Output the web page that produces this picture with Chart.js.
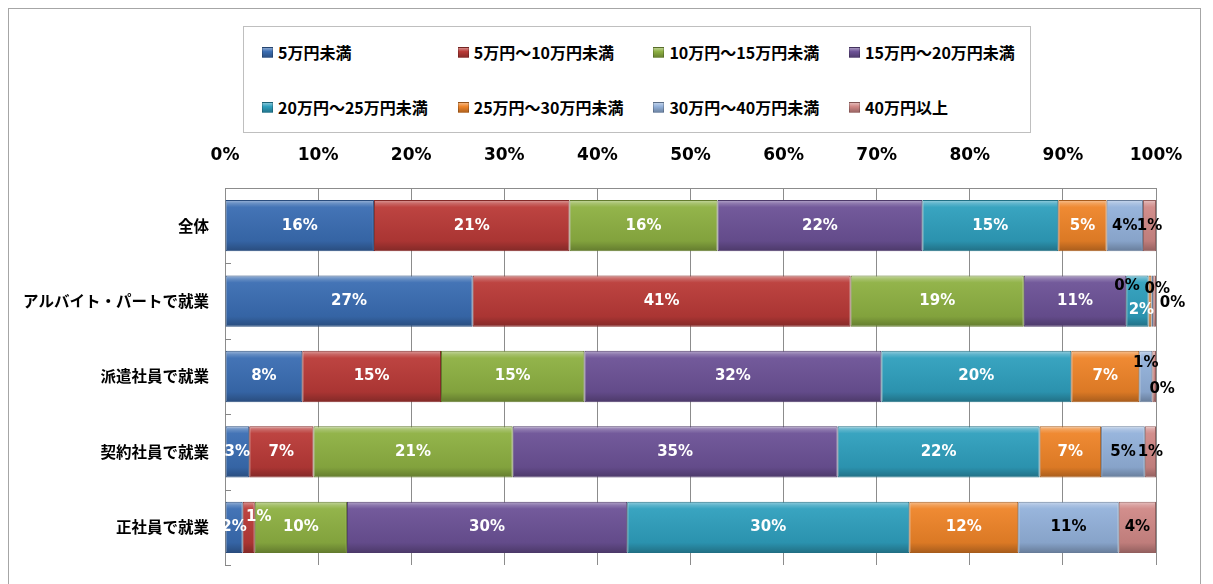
<!DOCTYPE html>
<html lang="ja">
<head>
<meta charset="utf-8">
<script src="https://cdn.jsdelivr.net/npm/chart.js@4/dist/chart.umd.min.js"></script>
<style>
  body { margin: 0; background: #fff; }
  #wrap { position: relative; width: 1213px; height: 584px; overflow: hidden; }
  #frame { position: absolute; left: 8px; top: 8px; width: 1191px; height: 600px; border: 1px solid #a6a6a6; }
  #legend { position: absolute; left: 243px; top: 26px; width: 786px; height: 105px; border: 1px solid #bfbfbf; background: #fff; }
  .item { position: absolute; display: flex; align-items: center; height: 20px; font: bold 16px "Noto Sans CJK JP", sans-serif; color: #000; white-space: nowrap; }
  .sw { width: 9px; height: 9px; margin-right: 5px; border: 1px solid rgba(0,0,0,0.2); }
  canvas { position: absolute; left: 0; top: 0; }
</style>
</head>
<body>
<div id="wrap">
  <div id="frame"></div>
  <canvas id="chart" width="1213" height="584"></canvas>
  <div id="legend"></div>
</div>
<script>
const categories = ["全体", "アルバイト・パートで就業", "派遣社員で就業", "契約社員で就業", "正社員で就業"];
const seriesNames = ["5万円未満", "5万円～10万円未満", "10万円～15万円未満", "15万円～20万円未満",
  "20万円～25万円未満", "25万円～30万円未満", "30万円～40万円未満", "40万円以上"];

// share (%) per category, in the order of categories
const under5 = [16.0, 26.6, 8.3, 2.6, 1.9];
const from5to10 = [21.0, 40.6, 14.9, 6.9, 1.3];
const from10to15 = [15.9, 18.6, 15.4, 21.4, 9.9];
const from15to20 = [22.0, 11.0, 31.9, 34.9, 30.1];
const from20to25 = [14.6, 2.4, 20.4, 21.7, 30.3];
const from25to30 = [5.2, 0.3, 7.3, 6.6, 11.7];
const from30to40 = [3.9, 0.2, 1.4, 4.7, 10.8];
const over40 = [1.4, 0.3, 0.4, 1.2, 4.0];

const xMax = 100;
const xStep = 10;

const seriesData = [under5, from5to10, from10to15, from15to20, from20to25, from25to30, from30to40, over40];
const colors = ["#3a6db2", "#b93a37", "#8db042", "#6c5196", "#2f9fbd", "#ee8428", "#93b1da", "#d08886"];

const BAR_PCT = 0.68;

function mix(hex, target, amt) {
  const n = parseInt(hex.slice(1), 16);
  const r = (n >> 16) & 255, g = (n >> 8) & 255, b = n & 255;
  const t = target === "w" ? 255 : 0;
  const m = (c) => Math.round(c + (t - c) * amt);
  return `rgb(${m(r)},${m(g)},${m(b)})`;
}

function barFill(base) {
  return (ctx) => {
    const chart = ctx.chart;
    const area = chart.chartArea;
    if (!area || ctx.type !== "data") return base;
    const y = chart.scales.y.getPixelForValue(ctx.dataIndex);
    const half = (area.bottom - area.top) / categories.length * BAR_PCT / 2;
    const g = chart.ctx.createLinearGradient(0, y - half, 0, y + half);
    g.addColorStop(0, mix(base, "w", 0.5));
    g.addColorStop(0.07, mix(base, "w", 0.22));
    g.addColorStop(0.14, mix(base, "w", 0.05));
    g.addColorStop(0.8, mix(base, "k", 0.08));
    g.addColorStop(1, mix(base, "k", 0.3));
    return g;
  };
}

// hand-moved labels in the original (row-dataset -> dx, dy)
const labelNudge = {
  "1-4": [4, 9], "1-5": [-23, -15], "1-6": [5, -12], "1-7": [18, 2],
  "2-6": [0, -13], "2-7": [8, 13],
  "4-1": [10, -10]
};

const barLabels = {
  id: "barLabels",
  afterDatasetsDraw(chart) {
    const c = chart.ctx;
    c.save();
    c.font = "bold 15px 'DejaVu Sans', sans-serif";
    c.textAlign = "center";
    c.textBaseline = "middle";
    chart.data.datasets.forEach((ds, di) => {
      chart.getDatasetMeta(di).data.forEach((bar, i) => {
        const v = ds.data[i];
        const n = labelNudge[i + "-" + di] || [0, 0];
        c.fillStyle = (di >= 6 || v < 1) ? "#000" : "#fff";
        c.fillText(Math.round(v) + "%", (bar.x + bar.base) / 2 + n[0], bar.y + n[1]);
      });
    });
    c.restore();
  }
};

const catTicks = {
  id: "catTicks",
  beforeDatasetsDraw(chart) {
    const { left, top, bottom } = chart.chartArea;
    const c = chart.ctx;
    const step = (bottom - top) / categories.length;
    c.save();
    c.strokeStyle = "#868686";
    c.lineWidth = 1;
    for (let i = 1; i <= categories.length; i++) {
      const y = Math.round(top + i * step) + 0.5;
      c.beginPath();
      c.moveTo(left, y);
      c.lineTo(left + 6, y);
      c.stroke();
    }
    c.restore();
  }
};

const chart = new Chart(document.getElementById("chart"), {
  type: "bar",
  data: {
    labels: categories,
    datasets: seriesData.map((d, i) => ({
      label: seriesNames[i],
      data: d,
      backgroundColor: barFill(colors[i]),
      borderColor: mix(colors[i], "k", 0.3),
      borderWidth: 1,
      borderSkipped: false,
      barPercentage: BAR_PCT,
      categoryPercentage: 1
    }))
  },
  options: {
    indexAxis: "y",
    responsive: false,
    animation: false,
    layout: { padding: { top: 140, right: 57, bottom: 19, left: 0 } },
    plugins: { legend: { display: false }, tooltip: { enabled: false } },
    scales: {
      x: {
        position: "top",
        stacked: true,
        min: 0,
        max: xMax,
        ticks: {
          stepSize: xStep,
          callback: (v) => v + "%",
          color: "#000",
          padding: 22,
          maxRotation: 0,
          font: { family: "'DejaVu Sans', sans-serif", weight: "bold", size: 17 }
        },
        grid: { color: "#8c8c8c", drawTicks: false },
        border: { color: "#8c8c8c" },
        afterFit: (s) => { s.height = 48; }
      },
      y: {
        stacked: true,
        ticks: {
          color: "#000",
          padding: 16,
          font: { family: "'Noto Sans CJK JP', sans-serif", weight: "bold", size: 15.5 }
        },
        grid: { display: false, drawTicks: false },
        border: { color: "#8c8c8c" },
        afterFit: (s) => { s.width = 225; s.paddingTop = 0; s.paddingBottom = 0; }
      }
    }
  },
  plugins: [catTicks, barLabels]
});

// legend box, 4 columns x 2 rows
const legend = document.getElementById("legend");
seriesNames.forEach((name, i) => {
  const item = document.createElement("div");
  item.className = "item";
  item.style.left = (18 + (i % 4) * 195.7) + "px";
  item.style.top = (15 + Math.floor(i / 4) * 55) + "px";
  const sw = document.createElement("span");
  sw.className = "sw";
  sw.style.background = `linear-gradient(${mix(colors[i], "w", 0.4)}, ${colors[i]} 40%, ${mix(colors[i], "k", 0.25)})`;
  item.appendChild(sw);
  item.appendChild(document.createTextNode(name));
  legend.appendChild(item);
});
</script>
</body>
</html>
